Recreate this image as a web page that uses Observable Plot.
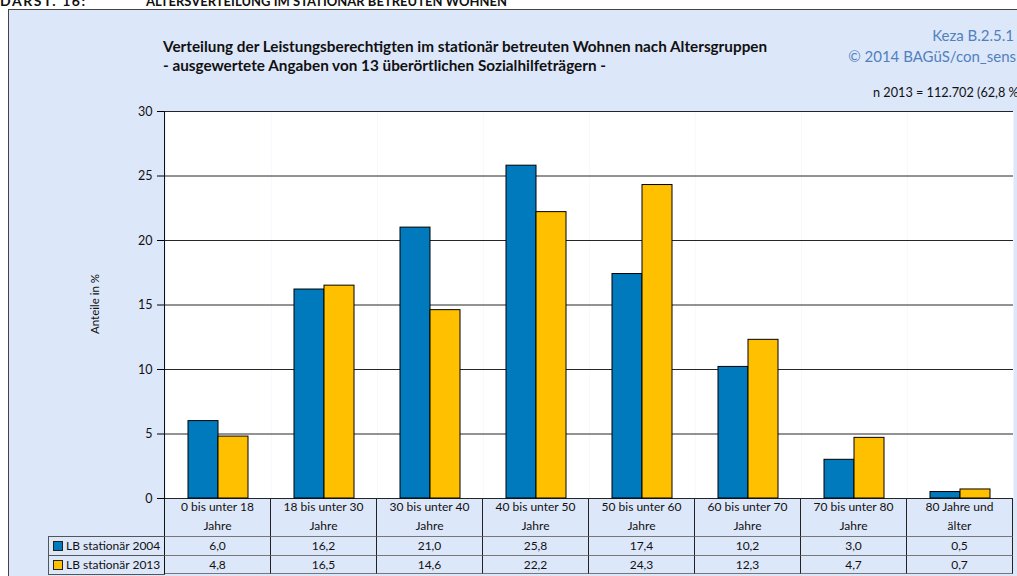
<!DOCTYPE html>
<html>
<head>
<meta charset="utf-8">
<script src="https://cdn.jsdelivr.net/npm/d3@7"></script>
<script src="https://cdn.jsdelivr.net/npm/@observablehq/plot@0.6"></script>
<style>
  html, body { margin: 0; padding: 0; width: 1017px; height: 576px; overflow: hidden; background: #fff; font-family: Lato, "Open Sans", sans-serif; }
  .abs { position: absolute; white-space: nowrap; }
  #box { position: absolute; left: 8px; top: 9px; width: 1040px; height: 600px; background: #DDE7FA; border-left: 1px solid #444; border-top: 1px solid #444; }
  .cell { position: absolute; box-sizing: border-box; text-align: center; font-size: 12px; color: #111; }
</style>
</head>
<body>
<div class="abs" style="left:0;top:-6px;font-size:14px;font-weight:bold;line-height:14px;letter-spacing:1.6px;color:#111;">DARST. 16:</div>
<div class="abs" style="left:146px;top:-6px;font-size:13px;font-weight:bold;line-height:14px;color:#111;">ALTERSVERTEILUNG IM STATIONÄR BETREUTEN WOHNEN</div>
<div id="box"></div>
<div class="abs" style="left:163px;top:37px;font-size:15.3px;font-weight:bold;line-height:19px;color:#111;">Verteilung der Leistungsberechtigten im stationär betreuten Wohnen nach Altersgruppen<br>- ausgewertete Angaben von 13 überörtlichen Sozialhilfeträgern -</div>
<div class="abs" style="right:3px;top:25px;font-size:15px;line-height:20px;color:#4F81BD;text-align:right;">Keza B.2.5.1</div>
<div class="abs" style="right:1px;top:46px;font-size:15px;line-height:20px;color:#4F81BD;text-align:right;">© 2014 BAGüS/con_sens</div>
<div class="abs" style="left:873px;top:84px;font-size:12.7px;line-height:16px;color:#111;">n 2013 = 112.702 (62,8 %)</div>
<div class="abs" style="left:94px;top:304px;font-size:11.5px;color:#111;transform:translate(-50%,-50%) rotate(-90deg);">Anteile in %</div>
<div id="chart" style="position:absolute;left:0;top:0;"></div>
<div id="table"></div>
<script>
const categories = ["0 bis unter 18\nJahre", "18 bis unter 30\nJahre", "30 bis unter 40\nJahre", "40 bis unter 50\nJahre", "50 bis unter 60\nJahre", "60 bis unter 70\nJahre", "70 bis unter 80\nJahre", "80 Jahre und\nälter"];
const series = ["LB stationär 2004", "LB stationär 2013"];
const values2004 = [6.0, 16.2, 21.0, 25.8, 17.4, 10.2, 3.0, 0.5];
const values2013 = [4.8, 16.5, 14.6, 22.2, 24.3, 12.3, 4.7, 0.7];
const yTicks = [0, 5, 10, 15, 20, 25, 30];
const colors = ["#0079BD", "#FFC000"];

const data = categories.flatMap((c, i) => [
  {cat: c, series: series[0], value: values2004[i]},
  {cat: c, series: series[1], value: values2013[i]}
]);

const plot = Plot.plot({
  width: 1017, height: 576,
  marginLeft: 163, marginRight: 3, marginTop: 111, marginBottom: 78,
  style: {background: "transparent", fontFamily: "Lato, sans-serif", fontSize: "12px", color: "#111", overflow: "visible"},
  fx: {domain: categories, padding: 0, axis: null},
  x: {domain: series, paddingInner: 0, paddingOuter: 0.74, axis: null},
  y: {domain: [0, 30], axis: null},
  color: {domain: series, range: colors},
  marks: [
    Plot.frame({fill: "white", stroke: "none"}),
    Plot.gridY(yTicks, {stroke: "#000", strokeOpacity: 0.85}),
    Plot.axisY(yTicks, {tickSize: 8, tickPadding: 5, label: null, stroke: "#000", fill: "#111", fontSize: 12.5}),
    Plot.barY(data, {fx: "cat", x: "series", y: "value", fill: "series", stroke: "#000", strokeWidth: 1})
  ]
});
document.getElementById("chart").appendChild(plot);

// table below the chart, aligned with the fx band scale
const fx = plot.scale("fx");
const table = document.getElementById("table");
const top0 = 498, hHead = 38, hRow = 19;
function add(html, style, cls = "cell") {
  const d = document.createElement("div");
  d.className = cls;
  d.innerHTML = html;
  Object.assign(d.style, style);
  table.appendChild(d);
  return d;
}
const bw = fx.bandwidth;
categories.forEach((c, i) => {
  const left = fx.apply(c);
  add(c.replace("\n", "<br>"), {left: left + "px", top: top0 + "px", width: bw + "px", height: hHead + "px", lineHeight: "18.5px", paddingTop: "0px", borderRight: "1px solid #222"});
  add(values2004[i].toFixed(1).replace(".", ","), {left: left + "px", top: (top0 + hHead) + "px", width: bw + "px", height: hRow + "px", lineHeight: "18px", borderRight: "1px solid #222", borderTop: "1px solid #777"});
  add(values2013[i].toFixed(1).replace(".", ","), {left: left + "px", top: (top0 + hHead + hRow) + "px", width: bw + "px", height: hRow + "px", lineHeight: "18px", borderRight: "1px solid #222", borderTop: "1px solid #777", borderBottom: "1px solid #777"});
});
// left axis line running through the table
const x0 = fx.apply(categories[0]);
add("", {left: (x0 - 1) + "px", top: "111px", width: "1px", height: (574 - 111) + "px", background: "#111"});
// legend cells
series.forEach((s, k) => {
  add(`<span style="display:inline-block;width:8px;height:8px;background:${colors[k]};border:1px solid #222;margin-right:3px;vertical-align:-1px;"></span>${s}`,
    {left: "48px", top: (top0 + hHead + k * hRow) + "px", width: (x0 - 48) + "px", height: (hRow + (k ? 1 : 0)) + "px", lineHeight: "18px", textAlign: "left", paddingLeft: "4px", borderLeft: "1px solid #555", borderTop: "1px solid #555", borderBottom: k ? "1px solid #555" : "none"});
});
</script>
</body>
</html>
